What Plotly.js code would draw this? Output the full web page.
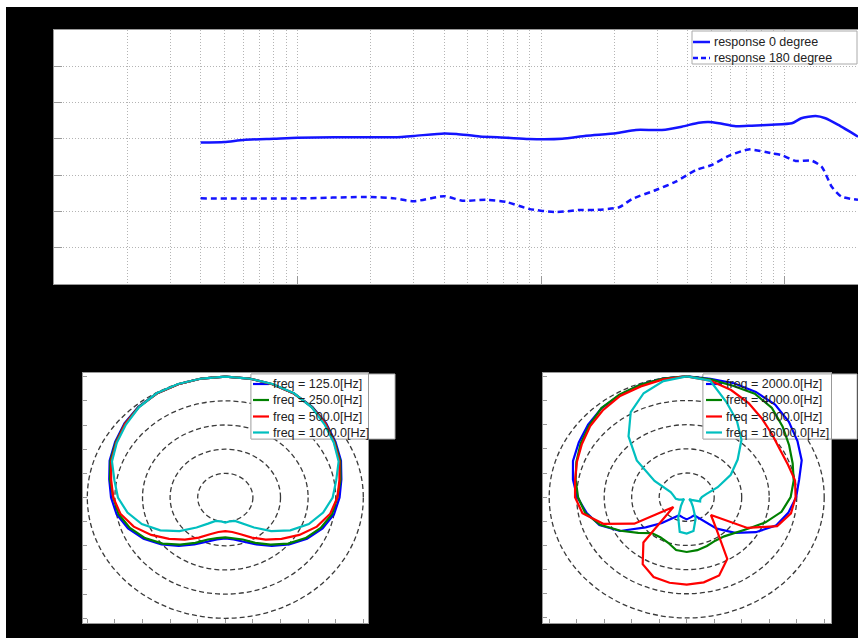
<!DOCTYPE html>
<html><head><meta charset="utf-8">
<script src="https://cdn.plot.ly/plotly-3.0.1.min.js"></script>
<style>html,body{margin:0;padding:0;background:#fff}#chart{width:858px;height:638px}</style>
</head><body><div id="chart"></div>
<script>
// ---------- data ----------
const freq0 = [40,50,60,80,100,200,250,300,400,450,560,720,890,1220,1530,2030,2450,3130,3780,4440,4880,5370,6300,7330,8850,10700,11700,13400,14700,16600,20000];
const resp0 = [-1.0,-0.86,-0.3,0.05,0.33,0.44,0.44,0.8,1.5,1.35,0.66,0.33,-0.03,0.05,0.88,1.54,2.45,2.45,3.36,4.46,4.65,4.3,3.47,3.64,3.91,4.3,5.67,6.3,5.67,3.83,0.6];
const freq180 = [40,100,200,250,300,400,475,595,720,890,1150,1430,1680,2090,2360,2960,3570,4320,5020,5890,7120,8850,9730,11100,12900,14200,15600,17100,20000];
const resp180 = [-16.4,-16.4,-16.0,-16.4,-17.2,-15.8,-17.05,-16.8,-17.4,-19.3,-20.2,-19.6,-19.6,-18.85,-16.6,-14.1,-11.8,-8.6,-7.2,-4.7,-2.9,-4.0,-4.5,-6.1,-6.0,-7.7,-13.2,-15.9,-16.8];

const angles = [0,10,20,30,40,50,60,70,80,90,100,110,120,130,140,150,160,170,180,190,200,210,220,230,240,250,260,270,280,290,300,310,320,330,340,350];
const r125  = [5.0,5.0,4.99,4.97,4.9,4.77,4.61,4.46,4.27,4.14,4.0,3.75,3.42,3.02,2.62,2.24,1.95,1.76,1.69,1.76,1.95,2.24,2.62,3.02,3.42,3.75,4.0,4.14,4.27,4.46,4.61,4.77,4.9,4.97,4.99,5.0];
const r250  = [5.0,5.0,4.99,4.97,4.89,4.75,4.58,4.43,4.24,4.06,3.93,3.68,3.36,2.97,2.55,2.17,1.85,1.71,1.65,1.71,1.85,2.17,2.55,2.97,3.36,3.68,3.93,4.06,4.24,4.43,4.58,4.75,4.89,4.97,4.99,5.0];
const r500  = [5.0,5.0,4.99,4.97,4.88,4.74,4.56,4.4,4.2,4.06,3.86,3.53,3.1,2.66,2.28,1.92,1.62,1.45,1.39,1.45,1.62,1.92,2.28,2.66,3.1,3.53,3.86,4.06,4.2,4.4,4.56,4.74,4.88,4.97,4.99,5.0];
const r1000 = [5.0,5.0,5.0,4.98,4.87,4.7,4.54,4.37,4.08,3.89,3.6,3.22,2.72,2.17,1.62,1.25,1.03,1.0,1.04,1.0,1.03,1.25,1.62,2.17,2.72,3.22,3.6,3.89,4.08,4.37,4.54,4.7,4.87,4.98,5.0,5.0];
const r2000 = [5.0,4.97,5.02,5.03,5.0,4.85,4.65,4.45,4.15,3.98,3.75,3.45,2.9,2.3,1.7,1.1,0.8,0.85,0.92,0.85,0.8,1.0,1.4,1.95,2.8,3.38,3.7,3.98,4.2,4.4,4.53,4.68,4.81,4.88,4.95,4.98];
const r4000 = [5.0,4.95,4.91,4.95,4.82,4.55,4.3,4.1,3.95,3.78,3.5,3.05,2.6,2.3,2.12,2.08,2.15,2.23,2.27,2.22,2.0,1.92,1.95,2.3,2.78,3.35,3.75,3.95,4.1,4.27,4.45,4.62,4.82,4.9,4.95,4.98];
const r8000 = [5.0,4.9,4.72,4.5,4.25,4.05,3.92,3.92,4.0,3.96,3.85,3.5,2.55,1.15,1.65,2.95,3.45,3.58,3.62,3.6,3.52,3.2,2.45,0.63,2.2,3.23,3.85,4.06,4.12,4.25,4.4,4.58,4.72,4.84,4.88,4.95];
const r16000= [5.0,4.9,4.2,3.65,3.1,2.42,1.85,1.2,0.72,0.55,0.5,0.52,0.25,0.12,0.25,0.45,0.95,1.42,1.51,1.46,0.9,0.42,0.22,0.12,0.2,0.3,0.4,0.45,0.5,0.62,1.35,2.37,3.29,4.07,4.58,4.88];

const ringRadii = [1,2,3,4,5];
const legendTop = ['response 0 degree','response 180 degree'];
const legendLow = ['freq = 125.0[Hz]','freq = 250.0[Hz]','freq = 500.0[Hz]','freq = 1000.0[Hz]'];
const legendHigh = ['freq = 2000.0[Hz]','freq = 4000.0[Hz]','freq = 8000.0[Hz]','freq = 16000.0[Hz]'];
const polarColors = ['#0000ff','#008000','#ff0000','#00bfbf'];

// ---------- geometry ----------
const W=858,H=638;
const px=x=>x/W, py=y=>1-y/H;
const L = {p0:83,p1:368,q0:373,q1:623, xr:[-5.156,5.17], yr:[-5.195,5.153], xa:'x2', ya:'y2'};
const R = {p0:543,p1:831,q0:373,q1:623, xr:[-5.225,5.247], yr:[-5.21,5.14], xa:'x3', ya:'y3'};
const dx=(g,p)=>g.xr[0]+(p-g.p0)/(g.p1-g.p0)*(g.xr[1]-g.xr[0]);
const dy=(g,q)=>g.yr[1]-(q-g.q0)/(g.q1-g.q0)*(g.yr[1]-g.yr[0]);

function polarTrace(r, color, g){
  const xs=[],ys=[];
  for(let i=0;i<=angles.length;i++){
    const a=angles[i%angles.length]*Math.PI/180, v=r[i%r.length];
    xs.push(v*Math.sin(a)); ys.push(v*Math.cos(a));
  }
  return {x:xs,y:ys,mode:'lines',xaxis:g.xa,yaxis:g.ya,showlegend:false,hoverinfo:'skip',
          line:{color:color,width:2.2}};
}

const traces = [
  {x:freq0,y:resp0,mode:'lines',xaxis:'x',yaxis:'y',showlegend:false,line:{color:'#1414ff',width:2.5,shape:'spline',smoothing:0.6}},
  {x:freq180,y:resp180,mode:'lines',xaxis:'x',yaxis:'y',showlegend:false,line:{color:'#1414ff',width:2.5,dash:'6px,4px',shape:'spline',smoothing:0.6}},
];
[r125,r250,r500,r1000].forEach((r,i)=>traces.push(polarTrace(r,polarColors[i],L)));
[r2000,r4000,r8000,r16000].forEach((r,i)=>traces.push(polarTrace(r,polarColors[i],R)));

const shapes = [
  {type:'rect',xref:'paper',yref:'paper',x0:0,x1:1,y0:py(7),y1:1,fillcolor:'#fff',line:{width:0},layer:'above'},
  {type:'rect',xref:'paper',yref:'paper',x0:0,x1:px(6),y0:0,y1:1,fillcolor:'#fff',line:{width:0},layer:'above'},
  // top legend
  {type:'rect',xref:'paper',yref:'paper',x0:px(692),x1:px(857),y0:py(64),y1:py(31),fillcolor:'#fff',line:{color:'#aaa',width:1},layer:'above'},
  {type:'line',xref:'paper',yref:'paper',x0:px(693),x1:px(710),y0:py(42),y1:py(42),line:{color:'#1414ff',width:2.5},layer:'above'},
  {type:'line',xref:'paper',yref:'paper',x0:px(693),x1:px(710),y0:py(58),y1:py(58),line:{color:'#1414ff',width:2.5,dash:'5px,3px'},layer:'above'},
];
const annotations = [];
legendTop.forEach((t,i)=>annotations.push({xref:'paper',yref:'paper',x:px(712),y:py(i?58:42),xanchor:'left',yanchor:'middle',showarrow:false,text:t,font:{family:'Liberation Sans, Arial, sans-serif',size:12.5,color:'#222'}}));

function polarDecor(g, box, sampleX, textX, rows, labels){
  ringRadii.forEach(r=>shapes.push({type:'circle',xref:g.xa,yref:g.ya,x0:-r,x1:r,y0:-r,y1:r,line:{color:'#3a3a3a',width:1.3,dash:'5px,3px'},layer:'below'}));
  shapes.push({type:'rect',xref:'paper',yref:'paper',x0:px(box[0]),x1:px(box[2]),y0:py(box[3]),y1:py(box[1]),fillcolor:'#fff',line:{color:'#b0b0b0',width:1},layer:'below'});
  shapes.push({type:'rect',xref:g.xa,yref:g.ya,x0:dx(g,box[0]),x1:dx(g,box[2]),y0:dy(g,box[3]),y1:dy(g,box[1]),fillcolor:'#fff',line:{color:'#b0b0b0',width:1},layer:'below'});
  rows.forEach((q,i)=>{
    shapes.push({type:'line',xref:g.xa,yref:g.ya,x0:dx(g,sampleX[0]),x1:dx(g,sampleX[1]),y0:dy(g,q),y1:dy(g,q),line:{color:polarColors[i],width:2.2},layer:'below'});
    annotations.push({xref:'paper',yref:'paper',x:px(textX),y:py(q),xanchor:'left',yanchor:'middle',showarrow:false,text:labels[i],font:{family:'Liberation Sans, Arial, sans-serif',size:12.5,color:'#222'}});
  });
}
polarDecor(L,[251,374,395,439],[253,269],271,[384,400,416.5,432.5],legendLow);
polarDecor(R,[703,374,857,439],[706,722],724,[384,400,416.5,432.5],legendHigh);

const gridCol='#b4b4b4';
const gridDash='1px,2px';
function polarAxis(g, isX){
  const dom = isX ? [px(g.p0),px(g.p1)] : [py(g.q1),py(g.q0)];
  return {domain:dom, range:isX?g.xr:g.yr, dtick:1, tick0:0, ticks:'inside', ticklen:4, tickcolor:'#999',
          showticklabels:false, showgrid:false, zeroline:false, showline:true, mirror:true, linecolor:'#999', linewidth:1,
          anchor:isX?g.ya:g.xa, fixedrange:true};
}

const layout = {
  width:W, height:H, margin:{l:0,r:0,t:0,b:0},
  paper_bgcolor:'#000', plot_bgcolor:'#fff', showlegend:false,
  xaxis:{type:'log', domain:[px(54),1], range:[1,Math.log10(20000)], dtick:1, ticks:'inside', ticklen:8, tickcolor:'#999',
         showticklabels:false, showgrid:true, gridcolor:gridCol, griddash:gridDash, gridwidth:1,
         minor:{dtick:'D1', showgrid:true, gridcolor:gridCol, griddash:gridDash, gridwidth:1, ticks:''},
         zeroline:false, showline:true, mirror:true, linecolor:'#999', anchor:'y', fixedrange:true},
  yaxis:{domain:[py(284),py(30)], range:[-40,30], dtick:10, ticks:'inside', ticklen:8, tickcolor:'#999',
         showticklabels:false, showgrid:true, gridcolor:gridCol, griddash:gridDash, gridwidth:1,
         zeroline:false, showline:true, mirror:true, linecolor:'#999', anchor:'x', fixedrange:true},
  xaxis2:polarAxis(L,true), yaxis2:polarAxis(L,false),
  xaxis3:polarAxis(R,true), yaxis3:polarAxis(R,false),
  shapes:shapes, annotations:annotations
};
Plotly.newPlot('chart', traces, layout, {staticPlot:true, displayModeBar:false});
</script></body></html>
